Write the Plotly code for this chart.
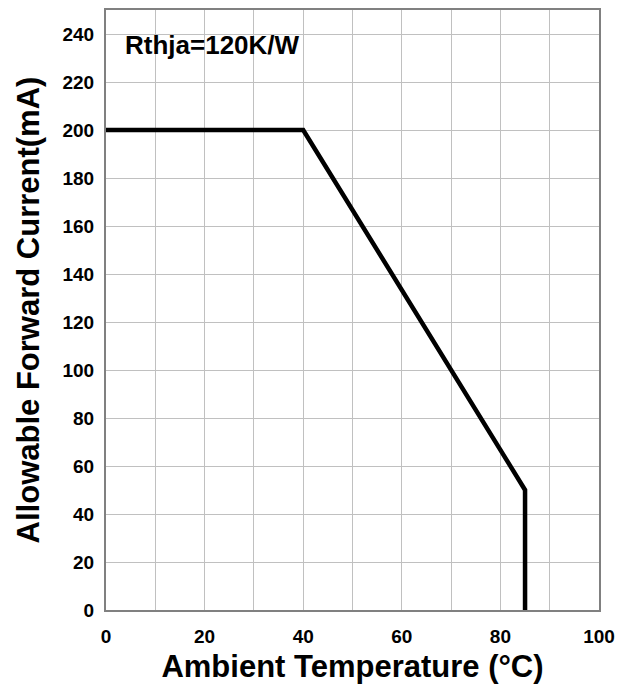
import plotly.graph_objects as go

temps = [0, 40, 85, 85]
currents = [200, 200, 50, 0]
x_ticks = [0, 20, 40, 60, 80, 100]
x_minor = [10, 30, 50, 70, 90]
y_ticks = [0, 20, 40, 60, 80, 100, 120, 140, 160, 180, 200, 220, 240]

font = "Liberation Sans, Arial, sans-serif"

fig = go.Figure()
fig.add_trace(go.Scatter(x=temps, y=currents, mode="lines",
                         line=dict(color="black", width=4.5), showlegend=False))

fig.update_layout(
    width=627, height=689,
    margin=dict(l=98, r=36, t=0, b=87),
    paper_bgcolor="white", plot_bgcolor="white",
    font=dict(family=font, color="black"),
    xaxis=dict(range=[0, 100], tickmode="array", tickvals=x_ticks,
               showgrid=True, gridcolor="#c0c0c0", gridwidth=1,
               minor=dict(tickvals=x_minor, showgrid=True, gridcolor="#c0c0c0", gridwidth=1),
               zeroline=False, showline=True, linecolor="#808080", linewidth=2, mirror=True,
               ticks="", ticklabelstandoff=8,
               tickfont=dict(size=19, family=font, weight="bold"),
               title=dict(text="<b>Ambient Temperature (°C)</b>", font=dict(size=31, family=font), standoff=10)),
    yaxis=dict(range=[0, 250], tickmode="array", tickvals=y_ticks,
               showgrid=True, gridcolor="#c0c0c0", gridwidth=1,
               zeroline=False, showline=True, linecolor="#808080", linewidth=2, mirror=True,
               ticks="", ticklabelstandoff=6,
               tickfont=dict(size=19, family=font, weight="bold"),
               title=dict(text="<b>Allowable Forward Current(mA)</b>", font=dict(size=31, family=font), standoff=14)),
)

fig.add_annotation(x=3.4, y=235.5, xref="x", yref="y", text="<b>Rthja=120K/W</b>",
                   showarrow=False, xanchor="left", yanchor="middle",
                   font=dict(size=26, family=font, color="black"))

fig.write_html("out.html")
